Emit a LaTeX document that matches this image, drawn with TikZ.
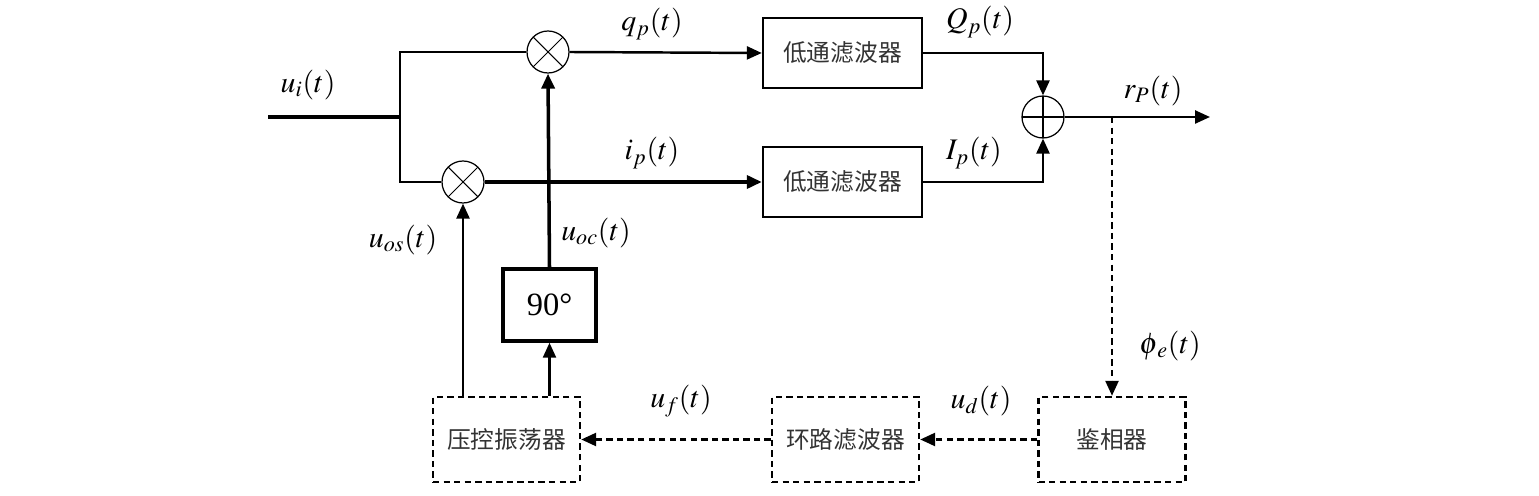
\documentclass[tikz,border=0pt]{standalone}
\usepackage{mathptmx}
\usepackage{fontspec}
\setmainfont{Liberation Serif}
\newfontfamily\cjk{Noto Sans CJK SC}
\usetikzlibrary{arrows.meta,positioning}

\begin{document}
\begin{tikzpicture}[
    x=0.02cm, y=-0.02cm,
    wire/.style={line width=1.4pt},
    bus/.style={line width=2pt},
    arr/.style={-{Triangle[length=0.3cm,width=0.26cm]}},
    dline/.style={line width=1.4pt, dash pattern=on 3.6pt off 2.4pt},
    block/.style={draw, line width=1.4pt, minimum width=3.18cm, minimum height=1.4cm, font=\cjk\fontsize{13.5}{16}\selectfont, text=black!80},
    dblock/.style={draw, dline, minimum width=2.94cm, minimum height=1.7cm, font=\cjk\fontsize{13.5}{16}\selectfont, text=black!80},
    mix/.style={circle, draw, line width=0.7pt, minimum size=0.84cm, inner sep=0pt,
        path picture={\draw[line width=0.6pt] (path picture bounding box.north west) -- (path picture bounding box.south east)
            (path picture bounding box.north east) -- (path picture bounding box.south west);}},
    sumnode/.style={circle, draw, line width=0.7pt, minimum size=0.84cm, inner sep=0pt,
        path picture={\draw[line width=0.6pt] (path picture bounding box.north) -- (path picture bounding box.south)
            (path picture bounding box.west) -- (path picture bounding box.east);}},
    lab/.style={font=\fontsize{17}{20}\selectfont}
]
\useasboundingbox (0,0) rectangle (1539,496);

% upper part
\coordinate (in) at (268,117);
\coordinate (split) at (400,117);
\node[mix] (mulq) at (548,52) {};
\node[mix] (muli) at (463,182) {};
\node[block] (lpfq) at (842.5,53) {低通滤波器};
\node[block] (lpfi) at (842.5,182) {低通滤波器};
\node[sumnode] (sum) at (1043,117) {};
\coordinate (out) at (1210,117);
\coordinate (tap) at (1112,117);
\node[draw, line width=2pt, minimum width=1.86cm, minimum height=1.44cm, font=\fontsize{18.5}{20}\selectfont] (shift) at (549.5,305) {90°};

% loop
\node[dblock] (pd) at (1112,439.5) {鉴相器};
\node[dblock] (lf) at (845.5,439.5) {环路滤波器};
\node[dblock] (vco) at (506.5,439.5) {压控振荡器};

\draw[bus] (in) -- (split);
\draw[wire] (mulq.west) -| (split) |- (muli.west);
\draw[wire, arr] (mulq.east) -- (lpfq.west);
\draw[bus, arr] (muli.east) -- (lpfi.west);
\draw[wire, arr] (lpfq.east) -| (sum.north);
\draw[wire, arr] (lpfi.east) -| (sum.south);
\draw[wire, arr] (sum.east) -- (out);
\draw[dline, arr] (tap) -- (pd.north);
\draw[dline, arr] (pd.west) -- (lf.east);
\draw[dline, arr] (lf.west) -- (vco.east);
\draw[wire, arr] (vco.north -| muli) -- (muli.south);
\draw[wire, arr] (vco.north -| shift) -- (shift.south);
\draw[bus, arr] (shift.north) -- (mulq.south);

% labels
\node[lab] (lui) at (308,85) {$u_i(t)$};
\node[lab] (lqp) at (652,24) {$q_p(t)$};
\node[lab] (lip) at (652,153) {$i_p(t)$};
\node[lab] (lQp) at (980,22) {$Q_p(t)$};
\node[lab] (lIp) at (974,153) {$I_p(t)$};
\node[lab] (lrp) at (1153,91) {$r_P(t)$};
\node[lab] (lphi) at (1170,346) {$\phi_{\mkern2mu e}(t)$};
\node[lab] (lud) at (981,401) {$u_d(t)$};
\node[lab] (luf) at (681,401) {$u_f(t)$};
\node[lab] (luos) at (403,240) {$u_{os}(t)$};
\node[lab] (luoc) at (596,233) {$u_{oc}(t)$};
\end{tikzpicture}
\end{document}
